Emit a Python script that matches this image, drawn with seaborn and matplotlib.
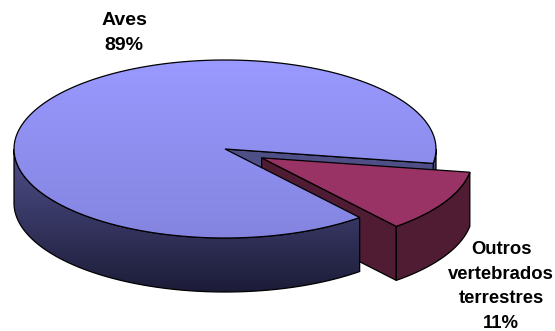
import numpy as np
import matplotlib
matplotlib.use("Agg")
import matplotlib.pyplot as plt
from matplotlib.colors import LinearSegmentedColormap
from matplotlib.patches import Polygon
import seaborn as sns

# ---- data ----
categories = ["Aves", "Outros\nvertebrados\nterrestres"]
shares = [88.6, 11.4]
explode = [0, 0.2]
percent_labels = ["89%", "11%"]

sns.set_theme(style="white")
plt.rcParams["font.family"] = ["Liberation Sans", "DejaVu Sans"]

W, H = 555, 331
fig = plt.figure(figsize=(W / 100, H / 100), dpi=100, facecolor="white")
ax = fig.add_axes([0, 0, 1, 1])

CX, CY, RX, RY, DEPTH = 225, 149, 211, 89, 54 / 89
START = -9.3

wedges, _ = ax.pie(shares, explode=explode, startangle=START, radius=1,
                   colors=["none", "#993366"], center=(0, 0),
                   wedgeprops=dict(edgecolor="black", linewidth=0.9, zorder=10))
ax.set_aspect("auto")
ax.set_xlim((0 - CX) / RX, (W - CX) / RX)
ax.set_ylim((CY - H) / RY, CY / RY)
ax.axis("off")

angles = np.cumsum([0] + [s / sum(shares) * 360 for s in shares]) + START


def arc(a0, a1, n=200, off=(0.0, 0.0)):
    t = np.radians(np.linspace(a0, a1, n))
    return np.column_stack([np.cos(t) + off[0], np.sin(t) + off[1]])


def wall(top_pts):
    lower = top_pts[::-1] - np.array([0, DEPTH])
    return np.vstack([top_pts, lower])


def gradient_fill(poly_pts, ctop, cbot, ytop, ybot, z, edge=True):
    cm = LinearSegmentedColormap.from_list("g", [ctop, cbot])
    grad = np.linspace(0, 1, 256).reshape(-1, 1)
    x0, x1 = ax.get_xlim()
    im = ax.imshow(grad, cmap=cm, aspect="auto", extent=(x0, x1, ybot, ytop),
                   origin="upper", zorder=z, interpolation="bilinear")
    ax.set_xlim(x0, x1)
    ax.set_ylim((CY - H) / RY, CY / RY)
    ax.set_aspect("auto")
    clip = Polygon(poly_pts, closed=True, transform=ax.transData, fc="none",
                   ec="black" if edge else "none", lw=0.9, zorder=z + 0.1)
    ax.add_patch(clip)
    im.set_clip_path(clip)
    return im


a_start, a_end, a_slice_end = angles
a_end_norm = a_end - 360  # lower cut of the main body

# inner cut wall of the main body, seen through the gap
p_rim = arc(a_start, a_start, 2)[0]
gradient_fill(wall(np.array([[0.0, 0.0], p_rim])), "#505088", "#4a4a80", 0.0, -1 - DEPTH, 1)

# exploded slice walls sit behind the main body's front
mid = np.radians((a_end + a_slice_end) / 2)
off = (explode[1] * np.cos(mid), explode[1] * np.sin(mid))
apex = np.array(off)
rim_pts = arc(a_end, a_slice_end, off=off)
wcol = "#4F1C33"
ax.add_patch(Polygon(wall(np.vstack([apex, rim_pts[0]])), closed=True, fc=wcol,
                     ec="black", lw=0.9, zorder=2))
ax.add_patch(Polygon(wall(rim_pts), closed=True, fc=wcol, ec="black", lw=0.9, zorder=2))

# outer wall of the main body: visible front from 180 deg to the lower cut
gradient_fill(wall(arc(-180, a_end_norm)), "#50508c", "#1c1c38", 0.0, -1 - DEPTH, 3)
# small sliver of the outer wall right of the upper cut
gradient_fill(wall(arc(a_start, 0, 30)), "#50508c", "#1c1c38", 0.0, -1 - DEPTH, 0.5)

# top face of the main body
top = np.vstack([[0, 0], arc(a_start, a_end)])
gradient_fill(top, "#9999FF", "#8484E0", 1.0, -1.0, 4)
wedges[0].set_visible(False)
wedges[1].set_zorder(8)


# labels
def px(x, y):
    return (x - CX) / RX, (CY - y) / RY


ax.text(*px(124, 33), f"{categories[0]}\n{percent_labels[0]}", ha="center", va="center",
        fontsize=14, fontweight="bold", color="black", linespacing=1.62, zorder=20)
ax.text(*px(501, 286.5), f"{categories[1]}\n{percent_labels[1]}", ha="center", va="center",
        fontsize=13.3, fontweight="bold", color="black", linespacing=1.58, zorder=20)

fig.savefig("out.png", dpi=100, facecolor="white")
